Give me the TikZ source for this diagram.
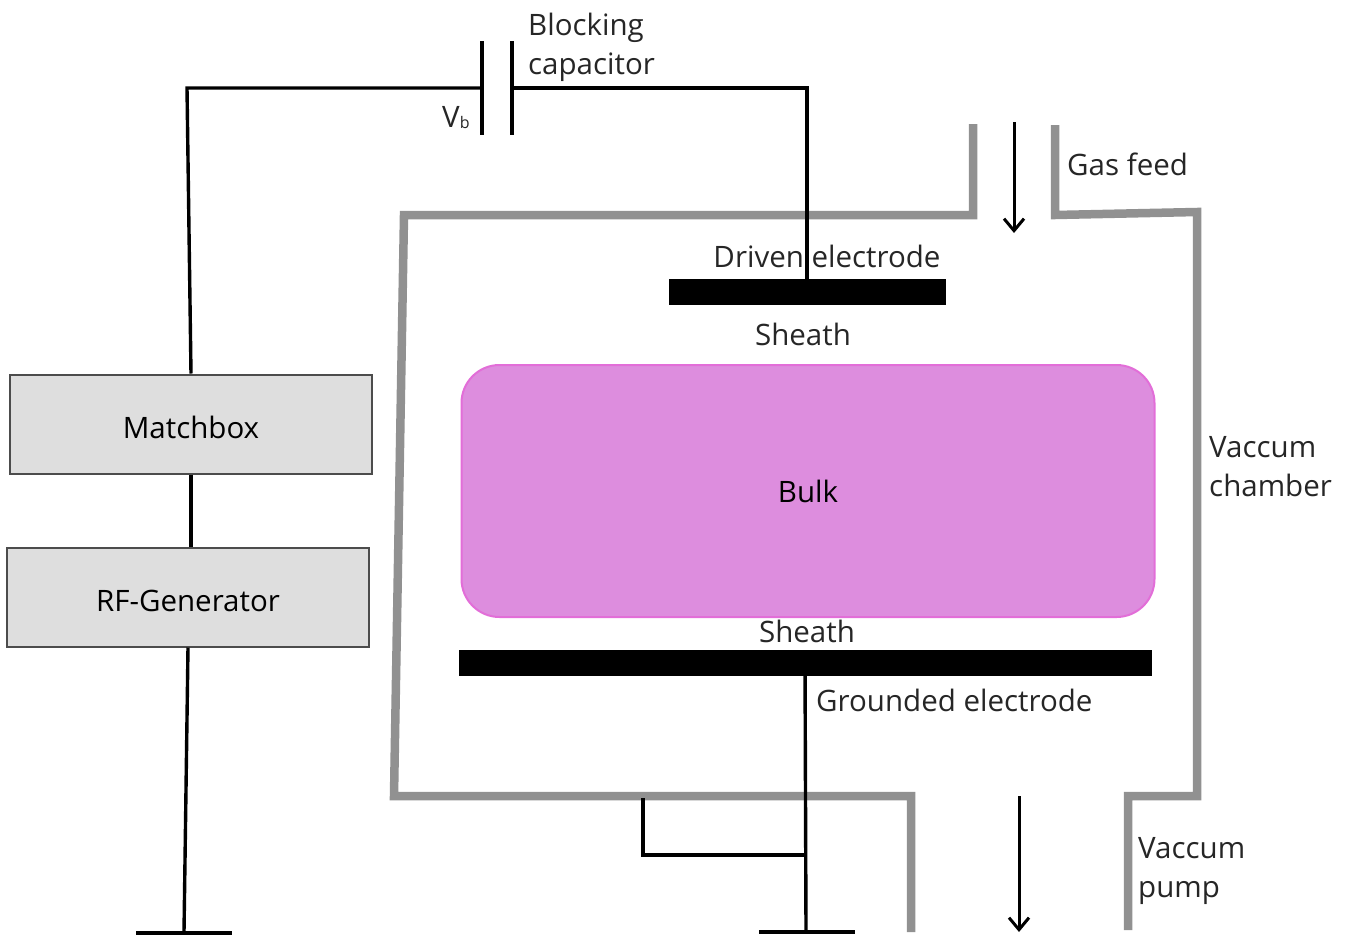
\documentclass[tikz,border=0pt]{standalone}
\usepackage{fontspec}
\setmainfont{Open Sans}
\usetikzlibrary{positioning, arrows.meta}
\tikzset{
  wire/.style={line width=3.4pt, black},
  wall/.style={line width=8.5pt, draw=black!43, line cap=butt, line join=miter},
  flow/.style={line width=3pt, -{Straight Barb[length=12pt,width=20pt,line width=3pt]}},
  unitbox/.style={draw=black!70, fill=black!13, line width=2pt, minimum width=362pt, minimum height=99pt, inner sep=0pt, font=\fontsize{29.5pt}{34pt}\selectfont},
  lbl/.style={inner sep=0pt, align=left, font=\fontsize{29.5pt}{39pt}\selectfont, text=black!85},
  plate/.style={fill=black, draw=none, inner sep=0pt}
}
\definecolor{bulkfill}{RGB}{221,141,222}
\definecolor{bulkline}{RGB}{226,110,216}
\begin{document}
\begin{tikzpicture}[x=1pt,y=-1pt]
\useasboundingbox (0,0) rectangle (1346,935);
% boxes
\node[unitbox] (match) at (191,424) {\raisebox{-14pt}[0pt][0pt]{Matchbox}};
\node[unitbox] (rf) at (188,597) {\raisebox{-14pt}[0pt][0pt]{RF-Generator}};
% plasma
\node[draw=bulkline, fill=bulkfill, line width=2pt, rounded corners=38pt, minimum width=693pt, minimum height=252pt, inner sep=0pt, font=\fontsize{29.5pt}{34pt}\selectfont] (bulk) at (808,491) {Bulk};
% chamber walls
\draw[wall] (973,124) -- (973,215) -- (404,215) -- (394,796) -- (911,796) -- (911,932);
\draw[wall] (1055,125) -- (1055,215) -- (1197,212) -- (1197,796) -- (1128,796) -- (1128,930);
% capacitor
\coordinate (capl) at (482,88);
\coordinate (capr) at (512,88);
\draw[wire] (482,41) -- (482,135);
\draw[wire] (512,41) -- (512,135);
% wiring
\coordinate (corner) at (187,88);
\coordinate (topr) at (807,88);
\coordinate (gnda) at (184,932);
\coordinate (gndb) at (806,931);
\coordinate (tap) at (806,855);
\coordinate (tapb) at (643,855);
\coordinate (tapc) at (643,798);
\node[plate, minimum width=277pt, minimum height=26pt] (driven) at (807,292) {};
\node[plate, minimum width=693pt, minimum height=26pt] (grounded) at (805,663) {};
\draw[wire] (match.north) -- (corner) -- (capl);
\draw[wire] (capr) -- (topr) -- (driven.center);
\draw[wire] (match.south) -- (match.south |- rf.north);
\draw[wire] (rf.south) -- (gnda);
\draw[wire] (grounded.center) -- (gndb);
\draw[wire] (tap) -- (tapb) -- (tapc);
\draw[wire] (136,933) -- (232,933);
\draw[wire] (759,932) -- (855,932);
% flows
\coordinate (gasa) at (1014,122);
\coordinate (gasb) at (1014,233);
\coordinate (pumpa) at (1019,796);
\coordinate (pumpb) at (1019,932);
\draw[flow] (gasa) -- (gasb);
\draw[flow] (pumpa) -- (pumpb);
% labels
\node[lbl, anchor=north west] (blk) at (528,13) {Blocking\\capacitor};
\node[lbl, anchor=west] (vb) at (442,118) {V\raisebox{-1pt}{\fontsize{16pt}{16pt}\selectfont b}};
\node[lbl, anchor=west] (gas) at (1067,164) {Gas feed};
\node[lbl, anchor=center] (dr) at (827,256) {Driven electrode};
\node[lbl, anchor=center] (sh1) at (803,334) {Sheath};
\node[lbl, anchor=center] (sh2) at (807,631) {Sheath};
\node[lbl, anchor=west] (gr) at (816,700) {Grounded electrode};
\node[lbl, anchor=north west] (vc) at (1209,436) {Vaccum\\chamber};
\node[lbl, anchor=north west] (vp) at (1138,837) {Vaccum\\pump};
\end{tikzpicture}
\end{document}
